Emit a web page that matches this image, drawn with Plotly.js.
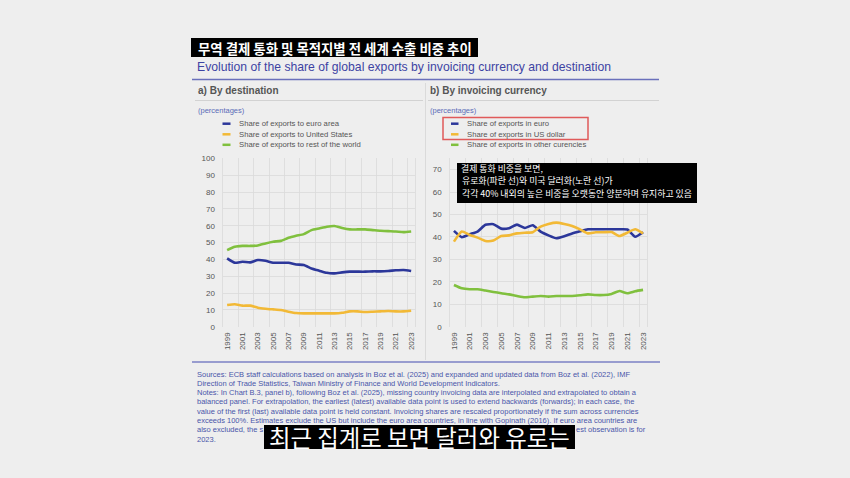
<!DOCTYPE html>
<html><head><meta charset="utf-8">
<script src="https://cdn.plot.ly/plotly-3.0.1.min.js"></script>
<style>html,body{margin:0;padding:0;background:#eeeeee;}#chart{width:850px;height:478px;}</style>
</head><body><div id="chart"></div>
<script>
// ---------- data ----------
const years = [1999,2000,2001,2002,2003,2004,2005,2006,2007,2008,2009,2010,2011,2012,2013,2014,2015,2016,2017,2018,2019,2020,2021,2022,2023];
// panel a) by destination
const destEuroArea      = [40.6,38.0,38.6,38.2,39.6,39.2,38.0,38.0,38.0,37.0,36.6,34.6,33.3,32.0,31.7,32.3,32.7,32.7,32.7,32.9,32.9,33.1,33.5,33.7,33.1];
const destUnitedStates  = [12.9,13.3,12.5,12.5,11.3,10.7,10.3,9.9,8.9,8.1,7.9,7.9,7.9,7.9,7.9,8.3,9.1,9.1,8.7,8.9,9.1,9.3,9.1,9.1,9.5];
const destRestOfWorld   = [45.5,47.5,48.0,48.0,48.3,49.5,50.5,51.0,52.8,54.0,55.0,57.4,58.4,59.4,59.8,58.6,57.8,57.8,57.8,57.4,57.0,56.8,56.6,56.2,56.6];
// panel b) by invoicing currency
const curEuro     = [42.7,39.9,41.2,42.4,45.4,45.7,43.7,43.9,45.5,44.0,45.2,42.4,40.7,39.4,40.3,41.5,42.5,43.4,43.4,43.4,43.4,43.4,43.3,40.1,42.1];
const curUsDollar = [37.9,42.4,40.9,39.7,38.2,38.4,40.4,40.7,41.6,41.9,42.1,44.6,45.8,46.4,45.8,44.9,43.4,41.6,42.1,42.1,42.2,40.4,41.9,43.4,41.6];
const curOther    = [18.6,17.1,16.7,16.7,16.1,15.5,14.9,14.4,13.7,13.1,13.4,13.7,13.4,13.7,13.7,13.7,14.0,14.4,14.1,14.1,14.6,15.9,14.9,15.8,16.4];
const xTickLabels = ['1999','2001','2003','2005','2007','2009','2011','2013','2015','2017','2019','2021','2023'];
const legendLeft  = ['Share of exports to euro area','Share of exports to United States','Share of exports to rest of the world'];
const legendRight = ['Share of exports in euro','Share of exports in US dollar','Share of exports in other curencies'];

// ---------- text ----------
const titleKo = '무역 결제 통화 및 목적지별 전 세계 수출 비중 추이';
const titleEn = 'Evolution of the share of global exports by invoicing currency and destination';
const panelA = 'a) By destination';
const panelB = 'b) By invoicing currency';
const unitsLabel = '(percentages)';
const noteLines = [
 'Sources: ECB staff calculations based on analysis in Boz et al. (2025) and expanded and updated data from Boz et al. (2022), IMF',
 'Direction of Trade Statistics, Taiwan Ministry of Finance and World Development Indicators.',
 'Notes: In Chart B.3, panel b), following Boz et al. (2025), missing country invoicing data are interpolated and extrapolated to obtain a',
 'balanced panel. For extrapolation, the earliest (latest) available data point is used to extend backwards (forwards); in each case, the',
 'value of the first (last) available data point is held constant. Invoicing shares are rescaled proportionately if the sum across currencies',
 'exceeds 100%. Estimates exclude the US but include the euro area countries, in line with Gopinath (2016). If euro area countries are'
];
const noteLine7Left = 'also excluded, the s';
const noteLine7Right = 'est observation is for';
const noteLine8 = '2023.';
const overlayLines = ['결제 통화 비중을 보면,','유로화(파란 선)와 미국 달러화(노란 선)가','각각 40% 내외의 높은 비중을 오랫동안 양분하며 유지하고 있음'];
const subtitleKo = '최근 집계로 보면 달러와 유로는';

// ---------- style ----------
const BLUE='#2c379a', YELLOW='#f2b936', GREEN='#80c03e', GRID='#d9d9d9';
const EN="'Liberation Sans', Arial, sans-serif", KO="'Noto Sans CJK KR', sans-serif";
const W=850, H=478;
const X=p=>p/W, Y=p=>1-p/H;

function tr(y, c, xa, ya){return {x:years, y:y, xaxis:xa, yaxis:ya, type:'scatter', mode:'lines',
  line:{color:c, width:2.6, shape:'spline', smoothing:0.5}, showlegend:false, hoverinfo:'skip'};}
const data=[
  tr(destEuroArea,BLUE,'x','y'), tr(destUnitedStates,YELLOW,'x','y'), tr(destRestOfWorld,GREEN,'x','y'),
  tr(curEuro,BLUE,'x2','y2'), tr(curUsDollar,YELLOW,'x2','y2'), tr(curOther,GREEN,'x2','y2')
];

function xax(dom){return {domain:dom, type:'linear', range:[1998.5,2023.5], tickmode:'array',
  tickvals:xTickLabels.map(Number), ticktext:xTickLabels, tickangle:-90,
  tickfont:{family:EN,size:8,color:'#555'}, showgrid:false, zeroline:false, showline:false, ticks:'',
  ticklabelstandoff:3, fixedrange:true,
  minor:{tickmode:'linear', tick0:1998.5, dtick:2, showgrid:true, gridcolor:GRID, gridwidth:0.8, ticks:''}};}
function yax(rng, anchor, standoff){return {domain:[Y(326.7),Y(158.4)], range:rng, dtick:10, anchor:anchor,
  tickfont:{family:EN,size:8,color:'#555'}, showgrid:true, gridcolor:GRID, gridwidth:0.8, zeroline:false,
  showline:true, mirror:true, linecolor:GRID, linewidth:0.8, ticks:'', ticklabelstandoff:standoff, fixedrange:true};}

const ann=[], shp=[];
function txt(t,x,y,size,color,o){ann.push(Object.assign({text:t,x:X(x),y:Y(y),xref:'paper',yref:'paper',
  showarrow:false,xanchor:'left',yanchor:'middle',font:{family:EN,size:size,color:color}},o||{}));}
function line(x0,y0,x1,y1,c,w){shp.push({type:'line',xref:'paper',yref:'paper',x0:X(x0),y0:Y(y0),x1:X(x1),y1:Y(y1),line:{color:c,width:w}});}
function rect(x0,y0,x1,y1,fill,lc,lw){shp.push({type:'rect',xref:'paper',yref:'paper',layer:'above',x0:X(x0),y0:Y(y0),x1:X(x1),y1:Y(y1),
  fillcolor:fill,line:{color:lc,width:lw}});}

// header
rect(191,38,478,57,'#000','rgba(0,0,0,0)',0);
txt(titleKo,334.5,47.5,13.4,'#fff',{xanchor:'center',font:{family:KO,size:13.4,color:'#fff',weight:'bold'}});
txt(titleEn,195,67,12.2,'#3d43a3');
line(192,79.5,659,79.5,'#6a70bb',1.5);
txt(panelA,196,90,10,'#555',{font:{family:EN,size:10,color:'#555',weight:'bold'}});
txt(panelB,428,90,10,'#555',{font:{family:EN,size:10,color:'#555',weight:'bold'}});
line(195,100.5,423,100.5,'#d2d2d2',1);
line(428,100.5,659,100.5,'#d2d2d2',1);
line(425.5,83,425.5,360,'#dadada',1);
txt(unitsLabel,196,110.5,7.5,'#5b6cb8');
txt(unitsLabel,428,110.5,7.5,'#5b6cb8');
// legends
const legCols=[BLUE,YELLOW,GREEN], legY=[123.7,134.3,144.8];
legendLeft.forEach((t,i)=>{line(222.5,legY[i],230.5,legY[i],legCols[i],2.5); txt(t,236.5,legY[i],7.7,'#555');});
legendRight.forEach((t,i)=>{line(451,legY[i],458.5,legY[i],legCols[i],2.5); txt(t,464.5,legY[i],7.7,'#555');});
shp.push({type:'rect',xref:'paper',yref:'paper',x0:X(443),y0:Y(117.5),x1:X(588),y1:Y(139.5),line:{color:'#e05a5a',width:1.5}});
// footer
line(192,362,660,362,'#7b80c4',1.5);
const noteY=[374,383.3,392.6,401.9,411.2,420.5,429.8,439.1];
const NOTE='#4a56aa', NS=7.5;
noteLines.forEach((t,i)=>txt(t,195,noteY[i],NS,NOTE));
txt(noteLine7Left,195,noteY[6],NS,NOTE);
txt(noteLine7Right,648,noteY[6],NS,NOTE,{xanchor:'right'});
txt(noteLine8,195,noteY[7],NS,NOTE);
// overlays (video captions)
rect(457,163,697,203,'#000','rgba(0,0,0,0)',0);
const ovY=[168.5,181,193.5];
overlayLines.forEach((t,i)=>txt(t,459.5,ovY[i],8.9,'#fff',{font:{family:KO,size:8.9,color:'#fff'}}));
rect(264,425,575,449,'#000','rgba(0,0,0,0)',0);
txt(subtitleKo,419.5,437,23.4,'#fff',{xanchor:'center',font:{family:KO,size:23.4,color:'#fff'}});

const layout={width:W,height:H,margin:{l:0,r:0,t:0,b:0},paper_bgcolor:'#eeeeee',plot_bgcolor:'rgba(0,0,0,0)',
  showlegend:false,
  xaxis:xax([X(223.3),X(415)]), yaxis:yax([0,100],'x',6),
  xaxis2:xax([X(450),X(647)]), yaxis2:yax([0,75],'x2',6),
  annotations:ann, shapes:shp};
Plotly.newPlot('chart',data,layout,{displayModeBar:false,staticPlot:true});
</script></body></html>
